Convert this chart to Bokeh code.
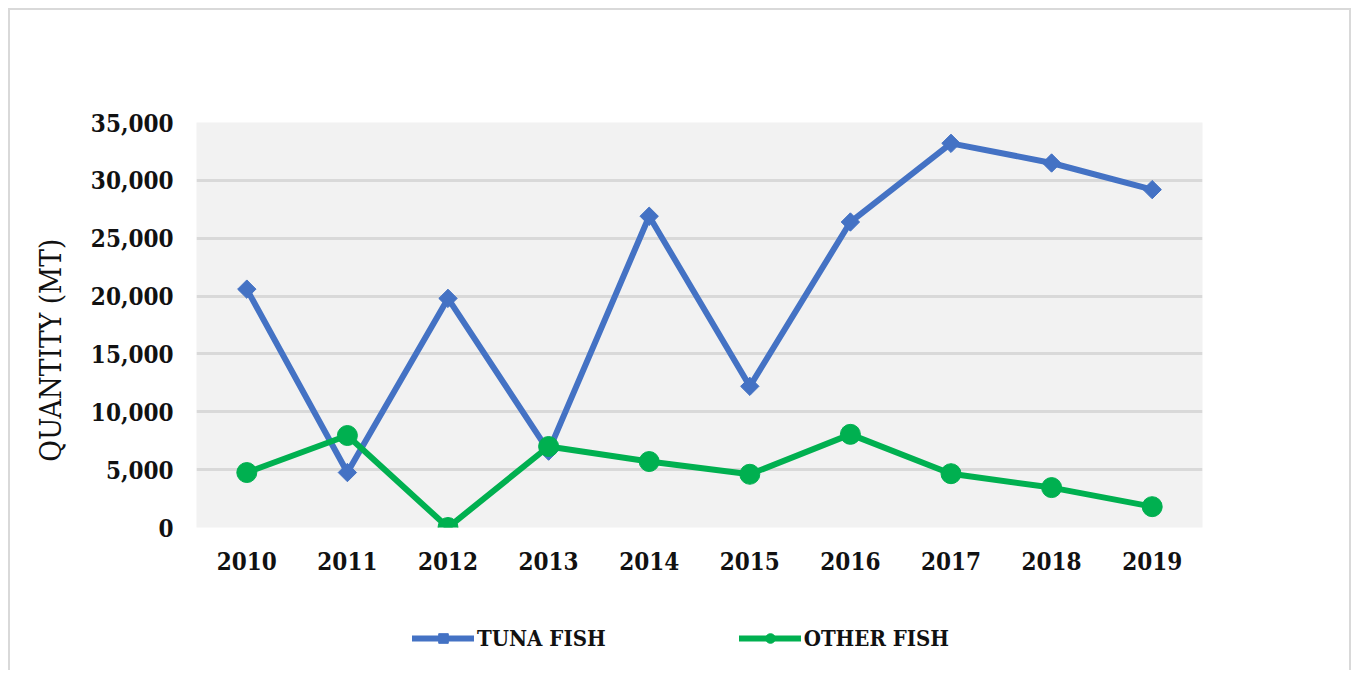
import math
from bokeh.plotting import figure
from bokeh.layouts import column
from bokeh.models import (ColumnDataSource, FactorRange, Range1d, Legend, LegendItem,
                          NumeralTickFormatter, FixedTicker)
from bokeh.embed import file_html
from bokeh.resources import INLINE

years = ["2010", "2011", "2012", "2013", "2014", "2015", "2016", "2017", "2018", "2019"]
tuna_fish = [20600, 4750, 19800, 6600, 26900, 12200, 26400, 33200, 31500, 29200]
other_fish = [4750, 7950, 0, 7000, 5700, 4600, 8050, 4650, 3450, 1800]
y_ticks = [0, 5000, 10000, 15000, 20000, 25000, 30000, 35000]

BLUE = "#4472c4"
GREEN = "#00b050"
FONT = "'DejaVu Serif Condensed', 'DejaVu Serif', serif"
TXT = "#111111"

src = ColumnDataSource(dict(year=years, tuna=tuna_fish, other=other_fish))

W = 1339
p = figure(width=W, height=572, x_range=FactorRange(*years, range_padding=0),
           y_range=Range1d(0, 35000), output_backend="svg", toolbar_location=None,
           min_border_left=186, min_border_right=147, min_border_top=112, min_border_bottom=55)

p.background_fill_color = "#f2f2f2"
p.border_fill_color = "white"
p.outline_line_color = None
p.xgrid.grid_line_color = None
p.ygrid.grid_line_color = "#d9d9d9"
p.ygrid.grid_line_width = 3

p.yaxis.ticker = FixedTicker(ticks=y_ticks)
p.yaxis.formatter = NumeralTickFormatter(format="0,0")
for ax in (p.xaxis[0], p.yaxis[0]):
    ax.axis_line_color = None
    ax.major_tick_line_color = None
    ax.minor_tick_line_color = None
    ax.major_label_text_font = FONT
    ax.major_label_text_font_style = "bold"
    ax.major_label_text_font_size = "24px"
    ax.major_label_text_color = TXT
p.yaxis.major_label_standoff = 17
p.xaxis.major_label_standoff = 18
p.yaxis.axis_label = "QUANTITY (MT)" + "\u00a0" * 6
p.yaxis.axis_label_text_font = FONT
p.yaxis.axis_label_text_font_style = "normal"
p.yaxis.axis_label_text_font_size = "29.5px"
p.yaxis.axis_label_text_color = TXT
p.yaxis.axis_label_standoff = 20

p.line("year", "tuna", source=src, line_color=BLUE, line_width=6)
p.scatter("year", "tuna", source=src, marker="square", angle=math.pi / 4,
          size=13, fill_color=BLUE, line_color=BLUE)
p.line("year", "other", source=src, line_color=GREEN, line_width=6)
p.scatter("year", "other", source=src, marker="circle", size=20,
          fill_color=GREEN, line_color=GREEN)

# legend strip (separate figure so the legend is not clipped)
lf = figure(width=W, height=88, x_range=Range1d(0, 1), y_range=Range1d(0, 1),
            output_backend="svg", toolbar_location=None,
            min_border_left=0, min_border_right=0, min_border_top=0, min_border_bottom=0,
            x_axis_type=None, y_axis_type=None)
lf.grid.visible = False
lf.outline_line_color = None
lf.background_fill_color = "white"
lf.border_fill_color = "white"

nan = float("nan")
blank = ColumnDataSource(dict(x=[nan], y=[nan]))
lg1 = lf.line("x", "y", source=blank, line_color=BLUE, line_width=6, line_cap="round")
lm1 = lf.scatter("x", "y", source=blank, marker="square", angle=math.pi / 4, size=7,
                 fill_color=BLUE, line_color=BLUE)
lg2 = lf.line("x", "y", source=blank, line_color=GREEN, line_width=6, line_cap="round")
lm2 = lf.scatter("x", "y", source=blank, marker="circle", size=10,
                 fill_color=GREEN, line_color=GREEN)

legend = Legend(items=[LegendItem(label="TUNA FISH", renderers=[lg1, lm1]),
                       LegendItem(label="OTHER FISH", renderers=[lg2, lm2])],
                orientation="horizontal", location=(216, 19),
                glyph_width=62, glyph_height=24, label_standoff=3, spacing=133,
                padding=0, margin=0, border_line_color=None, background_fill_alpha=0,
                label_text_font=FONT, label_text_font_style="bold",
                label_text_font_size="22px", label_text_color=TXT)
lf.add_layout(legend, "center")

layout = column(p, lf, spacing=0)
layout.styles = {"margin-left": "8px", "margin-top": "8px",
                 "border-top": "2px solid #d9d9d9", "border-left": "2px solid #d9d9d9",
                 "border-right": "2px solid #d9d9d9"}

open("out.html", "w").write(file_html(layout, INLINE))
